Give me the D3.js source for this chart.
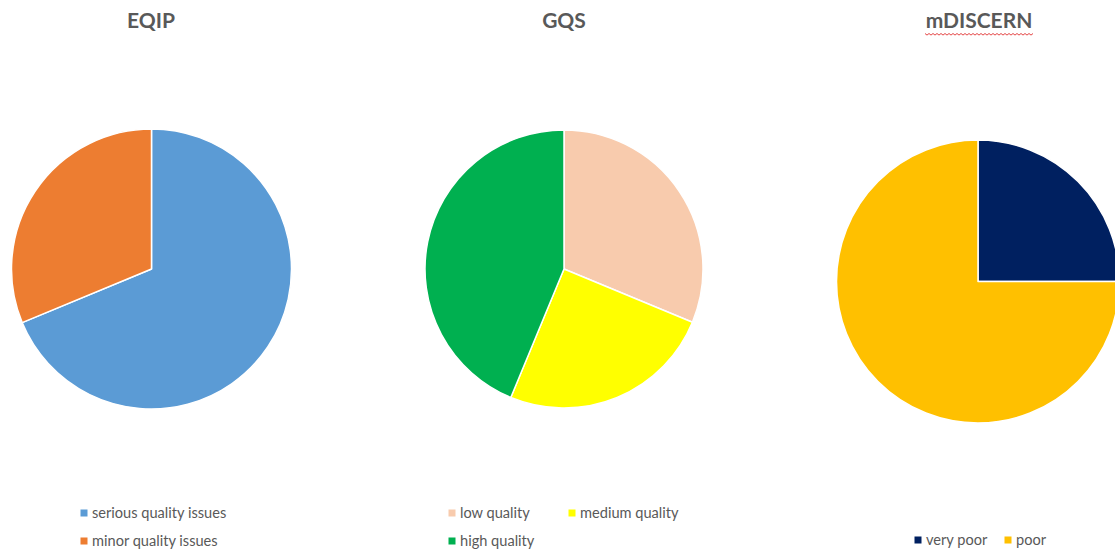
<!DOCTYPE html>
<html><head><meta charset="utf-8">
<script src="https://cdn.jsdelivr.net/npm/d3@7"></script>
<style>body{margin:0;background:#fff;overflow:hidden}svg{display:block}</style>
</head><body>
<script>
const titles = ["EQIP", "GQS", "mDISCERN"];
const eqipCategories = ["serious quality issues", "minor quality issues"];
const eqipValues = [11, 5];
const eqipColors = ["#5B9BD5", "#ED7D31"];
const gqsCategories = ["low quality", "medium quality", "high quality"];
const gqsValues = [5, 4, 7];
const gqsColors = ["#F8CBAD", "#FFFF00", "#00B050"];
const mdCategories = ["very poor", "poor"];
const mdValues = [4, 12];
const mdColors = ["#002060", "#FFC000"];

const W = 1115, H = 553;
const svg = d3.select("body").append("svg").attr("width", W).attr("height", H);
const font = "Lato, 'Open Sans', sans-serif";

const charts = [
  {title: titles[0], cats: eqipCategories, vals: eqipValues, cols: eqipColors, cx: 151.5, cy: 269, r: 140, tx: 151,
   legend: [[84, 513, 0], [84, 541, 1]]},
  {title: titles[1], cats: gqsCategories, vals: gqsValues, cols: gqsColors, cx: 564, cy: 269, r: 139, tx: 564,
   legend: [[452, 513, 0], [572, 513, 1], [452, 541, 2]]},
  {title: titles[2], cats: mdCategories, vals: mdValues, cols: mdColors, cx: 978, cy: 281.5, r: 141.5, tx: 979,
   legend: [[918, 540, 0], [1008, 540, 1]]}
];

const pie = d3.pie().sort(null).value(d => d);
charts.forEach(c => {
  const g = svg.append("g").attr("transform", `translate(${c.cx},${c.cy})`);
  const arc = d3.arc().innerRadius(0).outerRadius(c.r);
  g.selectAll("path").data(pie(c.vals)).join("path")
    .attr("d", arc).attr("fill", (d, i) => c.cols[i])
    .attr("stroke", "#fff").attr("stroke-width", 1.5).attr("stroke-linejoin", "round");
  svg.append("text").attr("x", c.tx).attr("y", 28).attr("text-anchor", "middle")
    .attr("font-family", font).attr("font-weight", "bold").attr("font-size", 21)
    .attr("fill", "#595959").text(c.title);
  c.legend.forEach(([x, y, i]) => {
    svg.append("rect").attr("x", x - 3.5).attr("y", y - 3.5).attr("width", 7).attr("height", 7).attr("fill", c.cols[i]);
    svg.append("text").attr("x", x + 8).attr("y", y + 5).attr("font-family", font)
      .attr("font-size", 14.6).attr("fill", "#595959").text(c.cats[i]);
  });
});

// red wavy spell-check underline under mDISCERN
const wave = d3.range(0, 55).map(k => [925 + k * 2, 33.5 + (k % 2) * 1.6]);
svg.append("path").attr("d", d3.line()(wave)).attr("fill", "none").attr("stroke", "#E03030").attr("stroke-width", 0.9);
</script>
</body></html>
